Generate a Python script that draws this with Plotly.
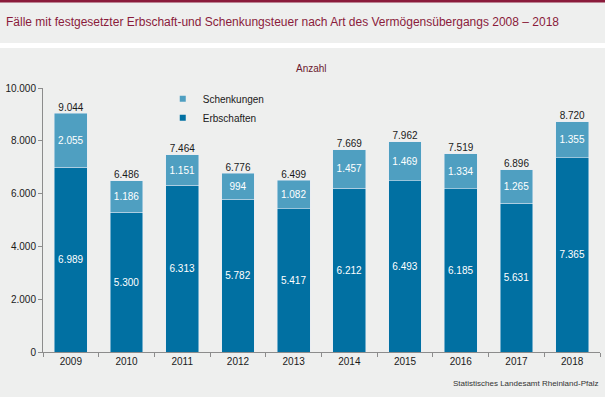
import plotly.graph_objects as go

years = ["2009", "2010", "2011", "2012", "2013", "2014", "2015", "2016", "2017", "2018"]
erbschaften = [6989, 5300, 6313, 5782, 5417, 6212, 6493, 6185, 5631, 7365]
schenkungen = [2055, 1186, 1151, 994, 1082, 1457, 1469, 1334, 1265, 1355]
totals = [e + s for e, s in zip(erbschaften, schenkungen)]

C_ERB = "#0170a2"
C_SCH = "#4f9fc1"
BG = "#eeefee"
MAROON = "#8a1b3b"
FONT = "Liberation Sans, Arial, sans-serif"

fig = go.Figure()
fig.add_trace(go.Bar(
    x=years, y=erbschaften, name="Erbschaften", marker_color=C_ERB,
    text=erbschaften, texttemplate="%{y:,}", textposition="inside",
    insidetextanchor="middle", textangle=0, constraintext="none",
    insidetextfont=dict(color="white", size=10, family=FONT),
    hoverinfo="x+y+name", showlegend=False, legendgroup="erb",
))
fig.add_trace(go.Bar(
    x=years, y=schenkungen, name="Schenkungen", marker_color=C_SCH,
    text=schenkungen, texttemplate="%{y:,}", textposition="inside",
    insidetextanchor="middle", textangle=0, constraintext="none",
    insidetextfont=dict(color="white", size=10, family=FONT),
    hoverinfo="x+y+name", showlegend=False, legendgroup="sch",
))
fig.add_trace(go.Scatter(
    x=years, y=totals, mode="text", text=totals, texttemplate="%{y:,}",
    textposition="top center", textfont=dict(color="#1a1a1a", size=10, family=FONT),
    showlegend=False, hoverinfo="skip",
))
# legend entries with small square symbols
fig.add_trace(go.Scatter(x=[None], y=[None], mode="markers", name="Erbschaften",
                         legendgroup="erb", marker=dict(symbol="square", size=6, color=C_ERB)))
fig.add_trace(go.Scatter(x=[None], y=[None], mode="markers", name="Schenkungen",
                         legendgroup="sch", marker=dict(symbol="square", size=6, color=C_SCH)))

# header decoration (maroon top line and white separator), in paper coordinates
fig.add_shape(type="rect", xref="paper", yref="paper", x0=-0.2, x1=1.2,
              y0=1.324, y1=1.40, fillcolor=MAROON, line_width=0, layer="above")
fig.add_shape(type="rect", xref="paper", yref="paper", x0=-0.2, x1=1.2,
              y0=1.1515, y1=1.1705, fillcolor="white", line_width=0, layer="below")

fig.add_annotation(text="Anzahl", xref="paper", yref="paper", x=0.482, y=1.0,
                   yshift=20, xanchor="center", yanchor="middle", showarrow=False,
                   font=dict(size=10, color="#6b1a2e", family=FONT))
fig.add_annotation(text="Statistisches Landesamt Rheinland-Pfalz", xref="paper", yref="paper",
                   x=1.0, y=0, yshift=-31, xanchor="right", yanchor="middle", showarrow=False,
                   font=dict(size=8, color="#333333", family=FONT))

fig.update_layout(
    width=605, height=397,
    margin=dict(l=40, r=5, t=88, b=45, pad=0),
    paper_bgcolor=BG, plot_bgcolor=BG,
    barmode="stack", bargap=0.41,
    separators=",.",
    font=dict(family=FONT, size=10, color="#1a1a1a"),
    title=dict(
        text="Fälle mit festgesetzter Erbschaft-und Schenkungsteuer nach Art des Vermögensübergangs 2008 – 2018",
        xref="container", yref="container", x=6/605, xanchor="left",
        y=1 - 22/397, yanchor="middle",
        font=dict(size=12, color=MAROON, family=FONT),
    ),
    legend=dict(
        x=0.215, y=1.014, xanchor="left", yanchor="top",
        traceorder="reversed", bgcolor="rgba(0,0,0,0)",
        font=dict(size=10, color="#1a1a1a", family=FONT),
        itemwidth=30,
    ),
    xaxis=dict(
        type="category", showline=True, linecolor="#8c8c8c", linewidth=1,
        ticks="outside", tickson="boundaries", ticklen=4, tickcolor="#8c8c8c",
        showgrid=False, zeroline=False, tickfont=dict(size=10, color="#1a1a1a"),
    ),
    yaxis=dict(
        range=[0, 10000], tickvals=[0, 2000, 4000, 6000, 8000, 10000], tickformat=",d",
        showline=True, linecolor="#8c8c8c", linewidth=1,
        ticks="outside", ticklen=4, tickcolor="#8c8c8c",
        showgrid=False, zeroline=False, tickfont=dict(size=10, color="#1a1a1a"),
    ),
)

fig.write_html("out.html", config={"displayModeBar": False},
               post_script="document.body.style.margin='0';document.body.style.padding='0';")
